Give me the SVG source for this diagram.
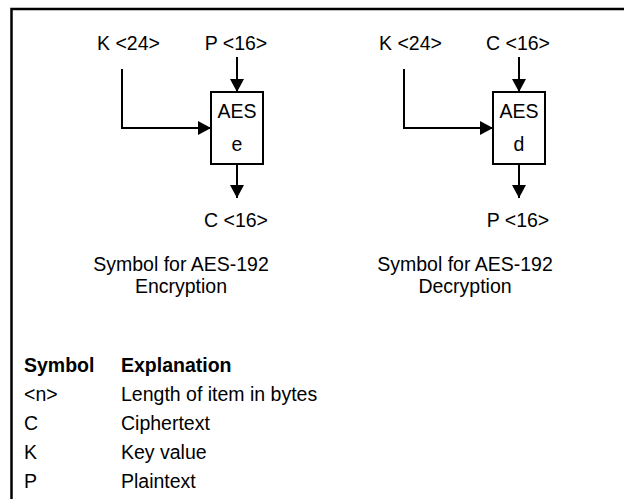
<svg xmlns="http://www.w3.org/2000/svg" width="624" height="499" viewBox="0 0 624 499">
<defs>
<marker id="ah" markerUnits="userSpaceOnUse" markerWidth="14" markerHeight="14" viewBox="0 0 13 14" refX="13" refY="7" orient="auto">
<path d="M0,0 L13,7 L0,14 Z" fill="#000"/>
</marker>
<style>
text{font-family:"Liberation Sans",Arial,sans-serif;font-size:19.5px;fill:#000}
.c{text-anchor:middle}
.b{font-weight:bold}
.box{fill:#fff;stroke:#000;stroke-width:2}
.ln{fill:none;stroke:#000;stroke-width:2;marker-end:url(#ah)}
</style>
</defs>
<rect width="624" height="499" fill="#fff"/>
<path d="M11.5,499 V9 H624" fill="none" stroke="#000" stroke-width="2.5"/>
<g id="connectors">
<line class="ln" x1="237" y1="57" x2="237" y2="92"/>
<path class="ln" d="M122,69 V128 H211"/>
<line class="ln" x1="237" y1="164" x2="237" y2="198"/>
<line class="ln" x1="519" y1="57" x2="519" y2="92"/>
<path class="ln" d="M404,69 V128 H493"/>
<line class="ln" x1="519" y1="164" x2="519" y2="198"/>
</g>
<g id="enc">
<rect class="box" x="211" y="92" width="52" height="72"/>
<text class="c" x="237" y="118">AES</text>
<text class="c" x="237" y="151">e</text>
</g>
<g id="enc-labels">
<text x="97" y="50">K &lt;24&gt;</text>
<text class="c" x="236" y="50">P &lt;16&gt;</text>
<text class="c" x="236" y="227">C &lt;16&gt;</text>
<text class="c" x="181" y="271">Symbol for AES-192</text>
<text class="c" x="181" y="293">Encryption</text>
</g>
<g id="dec">
<rect class="box" x="493" y="92" width="52" height="72"/>
<text class="c" x="519" y="118">AES</text>
<text class="c" x="519" y="151">d</text>
</g>
<g id="dec-labels">
<text x="379" y="50">K &lt;24&gt;</text>
<text class="c" x="518" y="50">C &lt;16&gt;</text>
<text class="c" x="518" y="227">P &lt;16&gt;</text>
<text class="c" x="465" y="271">Symbol for AES-192</text>
<text class="c" x="465" y="293">Decryption</text>
</g>
<g id="legend">
<text class="b" x="24" y="372">Symbol</text>
<text class="b" x="121" y="372">Explanation</text>
<text x="24" y="401">&lt;n&gt;</text>
<text x="121" y="401">Length of item in bytes</text>
<text x="24" y="430">C</text>
<text x="121" y="430">Ciphertext</text>
<text x="24" y="459">K</text>
<text x="121" y="459">Key value</text>
<text x="24" y="488">P</text>
<text x="121" y="488">Plaintext</text>
</g>
</svg>
